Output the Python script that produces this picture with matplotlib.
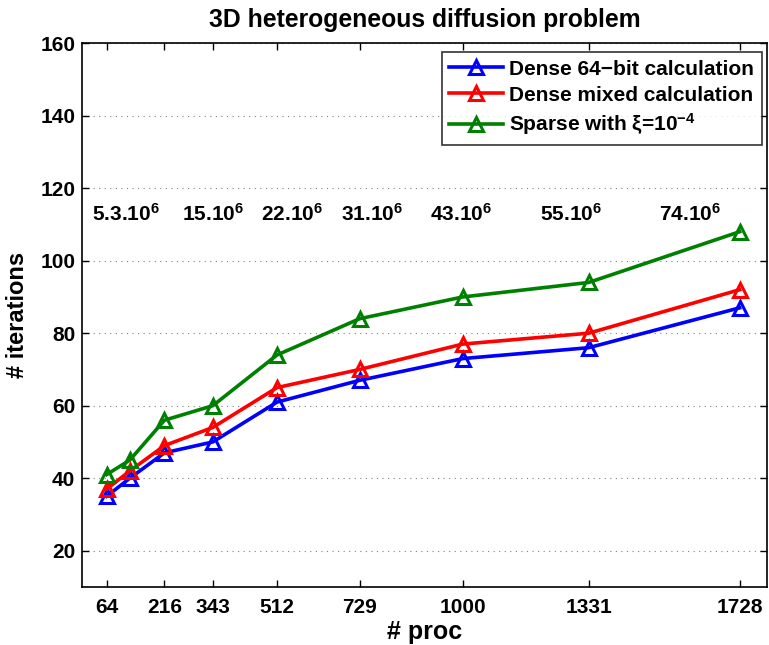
import matplotlib
matplotlib.use("Agg")
import matplotlib.pyplot as plt

plt.rcParams['font.family'] = ['Liberation Sans', 'DejaVu Sans']
plt.rcParams['font.weight'] = 'bold'
plt.rcParams['mathtext.fontset'] = 'custom'
plt.rcParams['mathtext.rm'] = 'Liberation Sans:bold'
plt.rcParams['mathtext.bf'] = 'Liberation Sans:bold'
plt.rcParams['mathtext.it'] = 'Liberation Sans:bold'

procs = [64, 125, 216, 343, 512, 729, 1000, 1331, 1728]
dense64 = [35, 40, 47, 50, 61, 67, 73, 76, 87]
dense_mixed = [37, 42, 49, 54, 65, 70, 77, 80, 92]
sparse = [41, 45, 56, 60, 74, 84, 90, 94, 108]

xticks = [64, 216, 343, 512, 729, 1000, 1331, 1728]
yticks = [20, 40, 60, 80, 100, 120, 140, 160]

size_labels = ['5.3.10$^6$', '15.10$^6$', '22.10$^6$', '31.10$^6$',
               '43.10$^6$', '55.10$^6$', '74.10$^6$']
size_label_x = [25, 263, 470, 679, 914, 1202, 1517]
size_label_y = 113

fig = plt.figure(figsize=(7.69, 6.45), dpi=100)
ax = fig.add_axes([0.107, 0.09, 0.8905, 0.843])

series = [
    (dense64, 'blue', 'Dense 64\u2212bit calculation'),
    (dense_mixed, 'red', 'Dense mixed calculation'),
    (sparse, 'green', r'Sparse with $\xi$=10$^{\mathbf{-4}}$'),
]
for vals, col, lab in series:
    ax.plot(procs, vals, color=col, lw=2.6, marker='^', ms=10,
            mfc='none', mec=col, mew=2.2, label=lab)

for x, t in zip(size_label_x, size_labels):
    ax.text(x, size_label_y, t, fontsize=15, fontweight='bold',
            ha='left', va='center')

ax.set_xlim(0, 1800)
ax.set_ylim(10, 160)
ax.set_xticks(xticks)
ax.set_yticks(yticks)
ax.tick_params(direction='in', top=True, right=True, length=5, width=1,
               labelsize=15)
ax.tick_params(axis='y', pad=5)
ax.tick_params(axis='x', pad=8)
for lbl in ax.get_xticklabels() + ax.get_yticklabels():
    lbl.set_fontweight('bold')
ax.yaxis.grid(True, linestyle=(0, (1, 4)), color='gray', lw=0.8)
for s in ax.spines.values():
    s.set_linewidth(1.2)

ax.set_title('3D heterogeneous diffusion problem', fontsize=17.8,
             fontweight='bold', pad=12)
ax.set_xlabel('# proc', fontsize=18, fontweight='bold', labelpad=2)
ax.set_ylabel('# iterations', fontsize=17, fontweight='bold', labelpad=8)

leg = ax.legend(loc='upper right', fontsize=15, frameon=True, fancybox=False,
                edgecolor='black', handlelength=2.6, borderpad=0.35,
                labelspacing=0.33, handletextpad=0.3, borderaxespad=0,
                bbox_to_anchor=(0.992, 0.983))
leg.get_frame().set_linewidth(1.2)
for t in leg.get_texts():
    t.set_fontweight('bold')

fig.savefig('out.png', dpi=100)
